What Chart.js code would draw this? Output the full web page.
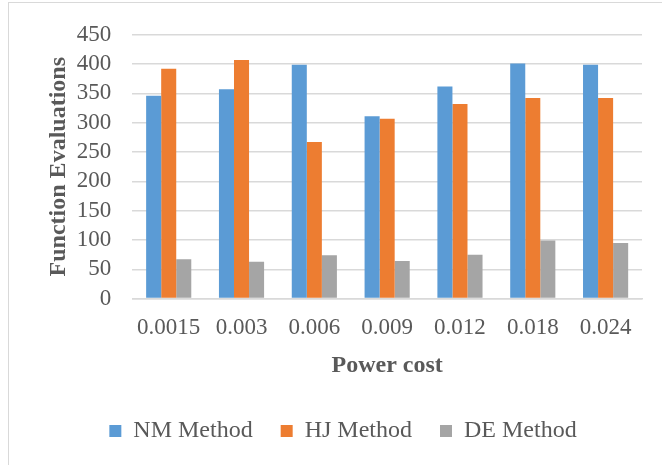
<!DOCTYPE html>
<html>
<head>
<meta charset="utf-8">
<script src="https://cdn.jsdelivr.net/npm/chart.js@4.4.0/dist/chart.umd.min.js"></script>
<style>
  html, body { margin: 0; padding: 0; background: #fff; }
  #wrap { position: relative; width: 662px; height: 465px; }
  #frame { position: absolute; left: 8px; top: 2px; width: 700px; height: 500px;
           border-left: 1px solid #d9d9d9; border-top: 1px solid #d9d9d9; }
  canvas { position: absolute; left: 0; top: 0; }
</style>
</head>
<body>
<div id="wrap">
  <div id="frame"></div>
  <canvas id="chart" width="662" height="465"></canvas>
</div>
<script>
// Data
const powerCost = ['0.0015', '0.003', '0.006', '0.009', '0.012', '0.018', '0.024'];
const nmMethod = [346, 357, 399, 311, 362, 401, 399];
const hjMethod = [392, 407, 267, 307, 332, 342, 342];
const deMethod = [67, 63, 74, 64, 75, 99, 95];

const textColor = '#595959';
const serif = 'Liberation Serif';
Chart.defaults.font.family = serif;
Chart.defaults.color = textColor;

const ctx = document.getElementById('chart').getContext('2d');
new Chart(ctx, {
  type: 'bar',
  data: {
    labels: powerCost,
    datasets: [
      { label: 'NM Method', data: nmMethod, backgroundColor: '#5b9bd5' },
      { label: 'HJ Method', data: hjMethod, backgroundColor: '#ed7d31' },
      { label: 'DE Method', data: deMethod, backgroundColor: '#a5a5a5' }
    ]
  },
  options: {
    responsive: false,
    animation: false,
    categoryPercentage: 0.62,
    barPercentage: 1.0,
    layout: { padding: { left: 44, right: 20, top: 13, bottom: 12 } },
    scales: {
      x: {
        grid: { display: false },
        border: { color: '#d9d9d9', width: 1.5 },
        ticks: { autoSkip: false, maxRotation: 0, color: textColor, font: { family: serif, size: 23 }, padding: 8 },
        title: {
          display: true, text: 'Power cost', color: textColor,
          font: { family: serif, size: 24, weight: 'bold' }, padding: { top: 1, bottom: 11 }
        }
      },
      y: {
        min: 0, max: 450,
        ticks: { autoSkip: false, stepSize: 50, color: textColor, font: { family: serif, size: 23 }, padding: 21 },
        grid: { color: '#d9d9d9', lineWidth: 1.5, drawTicks: false },
        border: { display: false },
        title: {
          display: true, text: 'Function Evaluations', color: textColor,
          font: { family: serif, size: 24, weight: 'bold' }, padding: { top: 0, bottom: -17 }
        }
      }
    },
    plugins: {
      legend: {
        position: 'bottom',
        labels: {
          color: textColor, boxWidth: 12, boxHeight: 12, padding: 28,
          font: { family: serif, size: 24 }
        }
      },
      tooltip: { enabled: false }
    }
  }
});
</script>
</body>
</html>
